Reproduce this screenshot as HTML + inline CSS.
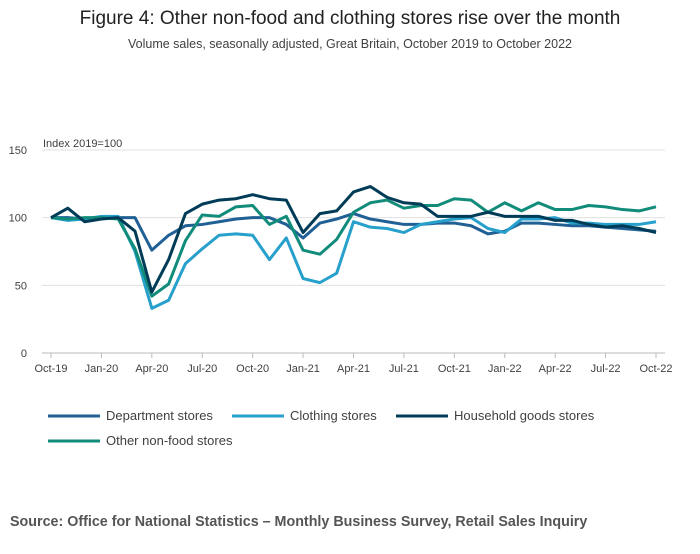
<!DOCTYPE html>
<html><head><meta charset="utf-8"><style>
body{margin:0;background:#fff;font-family:"Liberation Sans",sans-serif;}
svg text{font-family:"Liberation Sans",sans-serif;}
</style></head><body>
<svg width="700" height="549">
<text x="350" y="24" text-anchor="middle" font-size="19" fill="#222">Figure 4: Other non-food and clothing stores rise over the month</text>
<text x="350" y="48" text-anchor="middle" font-size="12.5" fill="#414042">Volume sales, seasonally adjusted, Great Britain, October 2019 to October 2022</text>
<text x="43" y="147" font-size="11" fill="#414042">Index 2019=100</text>
<g id="grid"></g><g id="xt"></g><g id="lines"></g><g id="legend"></g>
<text x="10" y="526" font-size="14.3" font-weight="bold" fill="#555">Source: Office for National Statistics – Monthly Business Survey, Retail Sales Inquiry</text>
</svg>
<script>
const yTicks=[0,50,100,150];
const xTickLabels=["Oct-19","Jan-20","Apr-20","Jul-20","Oct-20","Jan-21","Apr-21","Jul-21","Oct-21","Jan-22","Apr-22","Jul-22","Oct-22"];
const seriesNames=["Department stores","Clothing stores","Household goods stores","Other non-food stores"];
const department=[100,100,99,100,100,100,76,87,94,95,97,99,100,100,95,85,96,99,103,99,97,95,95,96,96,94,88,90,96,96,95,94,94,93,92,91,90];
const clothing=[100,98,99,101,101,75,33,39,66,77,87,88,87,69,85,55,52,59,97,93,92,89,95,97,99,100,92,89,99,99,100,96,96,95,95,95,97];
const household=[100,107,97,99,100,90,45,69,103,110,113,114,117,114,113,89,103,105,119,123,115,111,110,101,101,101,104,101,101,101,98,98,95,93,94,92,89];
const otherNonFood=[100,99,100,100,99,77,42,51,83,102,101,108,109,95,101,76,73,84,104,111,113,107,109,109,114,113,104,111,105,111,106,106,109,108,106,105,108];
const colors=["#206095","#27a0cc","#003c57","#118c7b"];
const NS="http://www.w3.org/2000/svg";
const X=i=>51+i*(605/36), Y=v=>353-v*(203/150);
function mk(t,a,p){const e=document.createElementNS(NS,t);for(const k in a)e.setAttribute(k,a[k]);p.appendChild(e);return e;}
const g=document.getElementById('grid');
yTicks.forEach(v=>{
  const l=mk('line',{x1:42,x2:665,y1:Y(v),y2:Y(v),stroke:v===0?'#bbb':'#e0e0e0','stroke-width':1},g);
  
  
  const t=mk('text',{x:27,y:Y(v)+4,'text-anchor':'end','font-size':11,fill:'#414042'},g);t.textContent=v;
  
  
});
const xt=document.getElementById('xt');
xTickLabels.forEach((s,k)=>{
  const x=X(k*3);
  const tk=mk('line',{x1:x,x2:x,y1:353,y2:358,stroke:'#bbb'},xt);
  
  
  const t=mk('text',{x:x,y:372,'text-anchor':'middle','font-size':11,fill:'#414042'},xt);t.textContent=s;
  
  
});
const data=[department,clothing,household,otherNonFood];
const lg=document.getElementById('lines');
[0,1,3,2].forEach(s=>{
  const p=mk('polyline',{points:data[s].map((v,i)=>X(i)+','+Y(v)).join(' '),fill:'none',stroke:colors[s],'stroke-width':3,'stroke-linejoin':'round'},lg);
  
  
});
const leg=document.getElementById('legend');
const pos=[[48,416],[232,416],[396,416],[48,441]];
seriesNames.forEach((n,s)=>{
  const [x,y]=pos[s];
  const gg=mk('g',{},leg);
  
  
  mk('line',{x1:x,x2:x+52,y1:y,y2:y,stroke:colors[s],'stroke-width':3},gg);
  const t=mk('text',{x:x+58,y:y+4,'font-size':13,fill:'#414042'},gg);t.textContent=n;
});
</script>
</body></html>
